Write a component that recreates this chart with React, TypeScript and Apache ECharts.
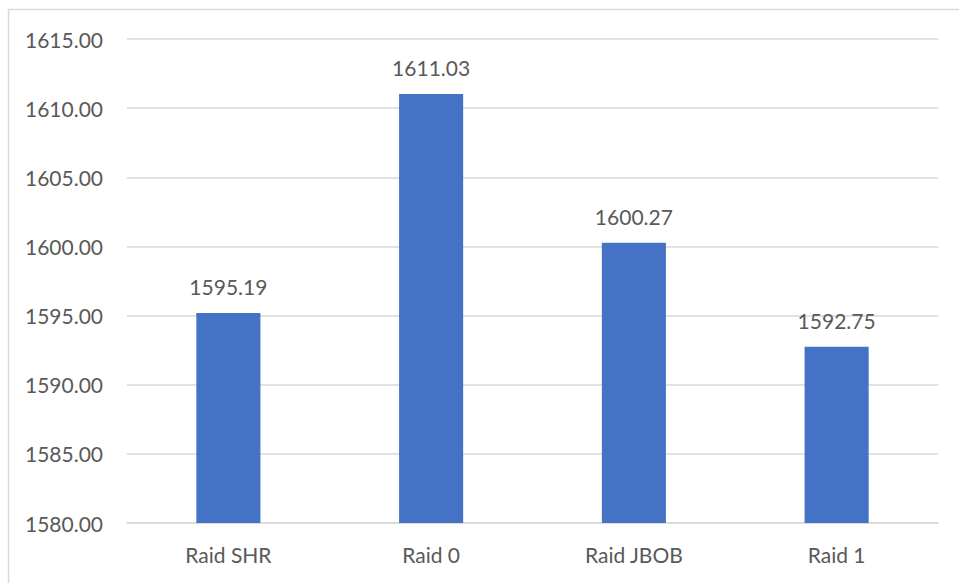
import React, { useEffect, useRef } from "react";
import * as echarts from "echarts";

const categories = ["Raid SHR", "Raid 0", "Raid JBOB", "Raid 1"];
const values = [1595.19, 1611.03, 1600.27, 1592.75];
const yMin = 1580;
const yMax = 1615;
const yStep = 5;

const FONT = "Lato, 'Open Sans', sans-serif";
const TEXT = "#595959";

export default function App() {
  const ref = useRef<HTMLDivElement>(null);
  useEffect(() => {
    document.body.style.margin = "0";
    const chart = echarts.init(ref.current!, undefined, { renderer: "svg" });
    chart.setOption({
      animation: false,
      backgroundColor: "#ffffff",
      graphic: [
        {
          type: "rect",
          shape: { x: 8.5, y: 9.5, width: 960, height: 580 },
          style: { fill: "none", stroke: "#d9d9d9", lineWidth: 1.5 },
          silent: true,
        },
      ],
      grid: { left: 127, right: 21, top: 39, bottom: 60 },
      xAxis: {
        type: "category",
        data: categories,
        axisLine: { show: true, lineStyle: { color: "#d9d9d9", width: 1.5 } },
        axisTick: { show: false },
        axisLabel: { color: TEXT, fontFamily: FONT, fontSize: 21, margin: 21 },
      },
      yAxis: {
        type: "value",
        min: yMin,
        max: yMax,
        interval: yStep,
        axisLine: { show: false },
        axisTick: { show: false },
        splitLine: { lineStyle: { color: "#d9d9d9", width: 1.5 } },
        axisLabel: {
          color: TEXT,
          fontFamily: FONT,
          fontSize: 21,
          margin: 24,
          formatter: (v: number) => v.toFixed(2),
        },
      },
      series: [
        {
          type: "bar",
          data: values,
          barWidth: "31.6%",
          itemStyle: { color: "#4472C4" },
          label: {
            show: true,
            position: "top",
            distance: 16,
            color: TEXT,
            fontFamily: FONT,
            fontSize: 21,
            formatter: (p: any) => Number(p.value).toFixed(2),
          },
        },
      ],
    });
    return () => chart.dispose();
  }, []);
  return (
    <div
      ref={ref}
      style={{ position: "absolute", left: 0, top: 0, width: 959, height: 583 }}
    />
  );
}
